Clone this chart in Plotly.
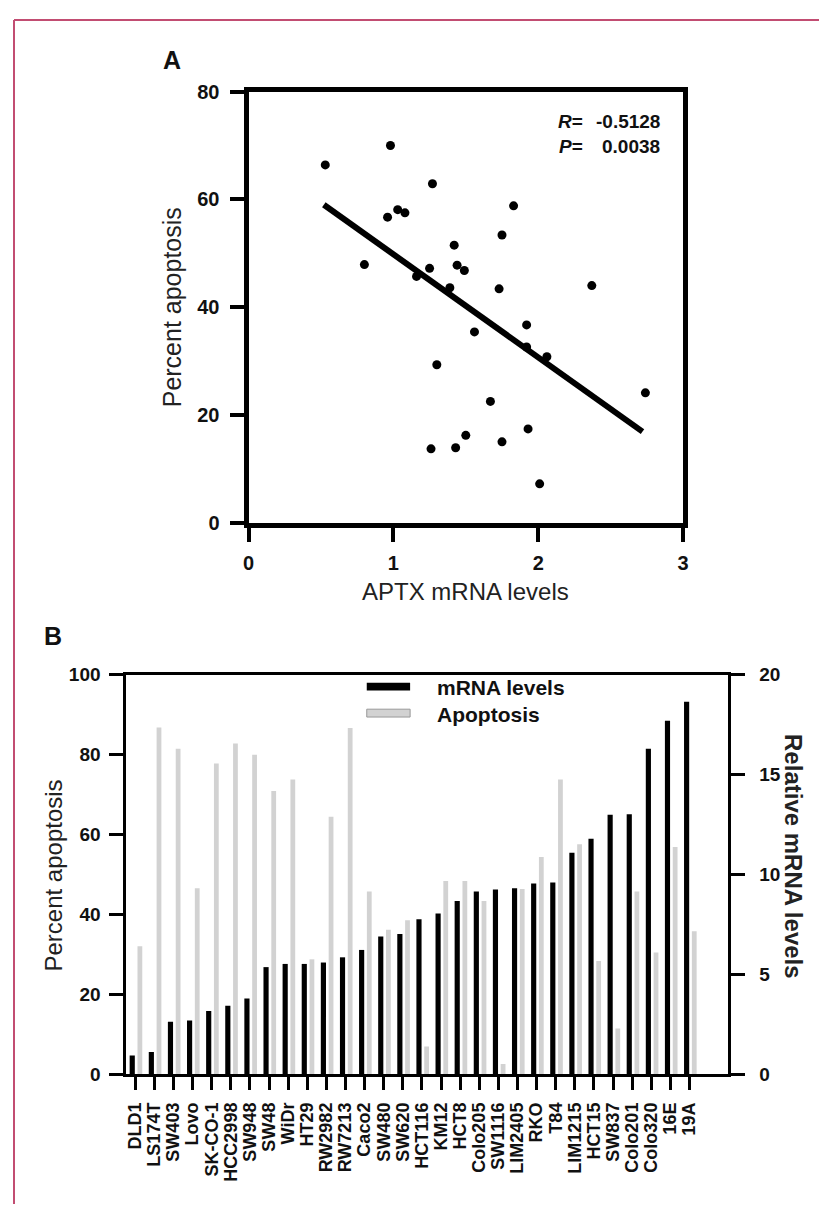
import plotly.graph_objects as go

# The page body has an 8px margin, so the figure is sized to fill the rest
PAGE_W, PAGE_H = 827, 1215
OFF = 8
W, H = PAGE_W - OFF, PAGE_H - OFF

# ---------------- Panel A data ----------------
aptx_mrna = [0.53, 0.98, 1.27, 0.96, 1.03, 1.08, 1.83, 1.75, 1.42, 0.80,
             1.25, 1.44, 1.49, 1.16, 1.39, 1.73, 2.37, 1.92, 1.56, 1.92,
             2.06, 1.30, 1.67, 2.74, 1.50, 1.93, 1.75, 1.26, 1.43, 2.01]
pct_apoptosis = [66.4, 70.0, 62.9, 56.7, 58.1, 57.5, 58.8, 53.4, 51.5, 47.9,
                 47.2, 47.8, 46.8, 45.7, 43.6, 43.4, 44.0, 36.7, 35.4, 32.6,
                 30.8, 29.3, 22.5, 24.1, 16.2, 17.4, 15.0, 13.7, 13.9, 7.2]
fit_x = [0.52, 2.72]
fit_y = [59.0, 16.9]
r_value = "-0.5128"
p_value = "0.0038"

# ---------------- Panel B data ----------------
cell_lines = ["DLD1", "LS174T", "SW403", "Lovo", "SK-CO-1", "HCC2998", "SW948",
              "SW48", "WiDr", "HT29", "RW2982", "RW7213", "Caco2", "SW480",
              "SW620", "HCT116", "KM12", "HCT8", "Colo205", "SW1116", "LIM2405",
              "RKO", "T84", "LIM1215", "HCT15", "SW837", "Colo201", "Colo320",
              "16E", "19A"]
mrna_levels = [0.95, 1.12, 2.64, 2.70, 3.17, 3.43, 3.80, 5.37, 5.53, 5.53,
               5.60, 5.86, 6.23, 6.90, 7.03, 7.77, 8.05, 8.68, 9.15, 9.25,
               9.32, 9.55, 9.60, 11.10, 11.80, 13.00, 13.02, 16.30, 17.70, 18.65]
apoptosis = [32.1, 86.8, 81.5, 46.6, 77.8, 82.8, 80.0, 70.9, 73.8, 28.8,
             64.5, 86.7, 45.8, 36.2, 38.6, 7.0, 48.4, 48.4, 43.4, 2.6,
             46.4, 54.4, 73.8, 57.6, 28.4, 11.5, 45.8, 30.5, 56.9, 35.8]

FONT = "Liberation Sans, Arial, Helvetica, sans-serif"
INK = "#111111"

def px(x):
    return (x - OFF) / W

def py(y):
    return 1 - (y - OFF) / H

fig = go.Figure()

# Panel A
fig.add_trace(go.Scatter(x=aptx_mrna, y=pct_apoptosis, mode="markers",
                         marker=dict(color="black", size=9),
                         xaxis="x", yaxis="y", showlegend=False))
fig.add_trace(go.Scatter(x=fit_x, y=fit_y, mode="lines",
                         line=dict(color="black", width=6),
                         xaxis="x", yaxis="y", showlegend=False))

# Panel B
fig.add_trace(go.Bar(x=cell_lines, y=mrna_levels, name="mRNA levels",
                     marker=dict(color="black", line=dict(width=0)),
                     width=0.27, offset=-0.29,
                     xaxis="x2", yaxis="y3", showlegend=False))
fig.add_trace(go.Bar(x=cell_lines, y=apoptosis, name="Apoptosis",
                     marker=dict(color="#d2d2d2", line=dict(width=0)),
                     width=0.25, offset=0.12,
                     xaxis="x2", yaxis="y2", showlegend=False))

axA = dict(showline=True, linecolor="black", linewidth=5, mirror=True,
           ticks="outside", ticklen=14, tickwidth=4, tickcolor="black",
           showgrid=False, zeroline=False,
           tickfont=dict(family=FONT, size=20, color=INK, weight="bold"))
axB = dict(showline=True, linecolor="black", linewidth=3,
           ticks="outside", ticklen=14, tickwidth=3, tickcolor="black",
           showgrid=False, zeroline=False,
           tickfont=dict(family=FONT, size=19, color=INK, weight="bold"))

fig.update_layout(
    width=W, height=H,
    margin=dict(l=0, r=0, t=0, b=0),
    paper_bgcolor="white", plot_bgcolor="white",
    barmode="overlay",
    xaxis=dict(axA, domain=[px(246), px(687)], range=[0, 3],
               tickvals=[0, 1, 2, 3], anchor="y", ticklabelstandoff=4),
    yaxis=dict(axA, domain=[py(521), py(82)], range=[0, 80],
               tickvals=[0, 20, 40, 60, 80], anchor="x", ticklabelstandoff=6),
    xaxis2=dict(axB, domain=[px(122), px(733)], range=[-0.464, 31.03],
                type="category", mirror=True, anchor="y2", ticklen=13,
                tickmode="array", tickvals=cell_lines, ticktext=cell_lines,
                tickangle=-90, ticklabelstandoff=5,
                tickfont=dict(family=FONT, size=18, color=INK, weight="bold")),
    yaxis2=dict(axB, domain=[py(1083), py(676)], range=[0, 100],
                tickvals=[0, 20, 40, 60, 80, 100], anchor="x2",
                ticklabelstandoff=5),
    yaxis3=dict(axB, domain=[py(1083), py(676)], range=[0, 20],
                tickvals=[0, 5, 10, 15, 20], overlaying="y2", side="right",
                anchor="x2", ticklabelstandoff=10),
)

ann = []
def text(x, y, s, size, bold=False, angle=0, xanchor="center", color=INK):
    ann.append(dict(x=px(x), y=py(y), xref="paper", yref="paper", text=s,
                    showarrow=False, textangle=angle, xanchor=xanchor,
                    yanchor="middle",
                    font=dict(family=FONT, size=size, color=color,
                              weight="bold" if bold else "normal")))

text(168.5, 49.5, "A", 25, bold=True)
text(48, 636, "B", 25, bold=True)
text(168, 302, "Percent apoptosis", 25, angle=-90, color="#222222")
text(466.5, 591, "APTX mRNA levels", 24, color="#222222")
text(48, 880, "Percent apoptosis", 24, angle=-90, color="#222222")
text(799, 861, "Relative mRNA levels", 24, bold=True, angle=90, color="#222222")
text(587, 112, "<i>R</i>=", 19, bold=True, xanchor="right")
text(666, 112, r_value, 19, bold=True, xanchor="right")
text(587, 138, "<i>P</i>=", 19, bold=True, xanchor="right")
text(666, 138, p_value, 19, bold=True, xanchor="right")
text(435, 689, "mRNA levels", 21, bold=True, xanchor="left")
text(435, 716, "Apoptosis", 21, bold=True, xanchor="left")

shapes = [
    dict(type="rect", xref="paper", yref="paper", x0=px(366), x1=px(410),
         y0=py(692), y1=py(684), fillcolor="black", line=dict(width=0)),
    dict(type="rect", xref="paper", yref="paper", x0=px(366), x1=px(410),
         y0=py(719), y1=py(711), fillcolor="#d2d2d2",
         line=dict(color="#999999", width=1)),
    dict(type="line", xref="paper", yref="paper", x0=px(8), x1=1,
         y0=py(9), y1=py(9), line=dict(color="#c24d72", width=2)),
    dict(type="line", xref="paper", yref="paper", x0=px(8), x1=px(8),
         y0=py(9), y1=0, line=dict(color="#c24d72", width=2)),
]

fig.update_layout(annotations=ann, shapes=shapes)
fig.write_html("out.html")
